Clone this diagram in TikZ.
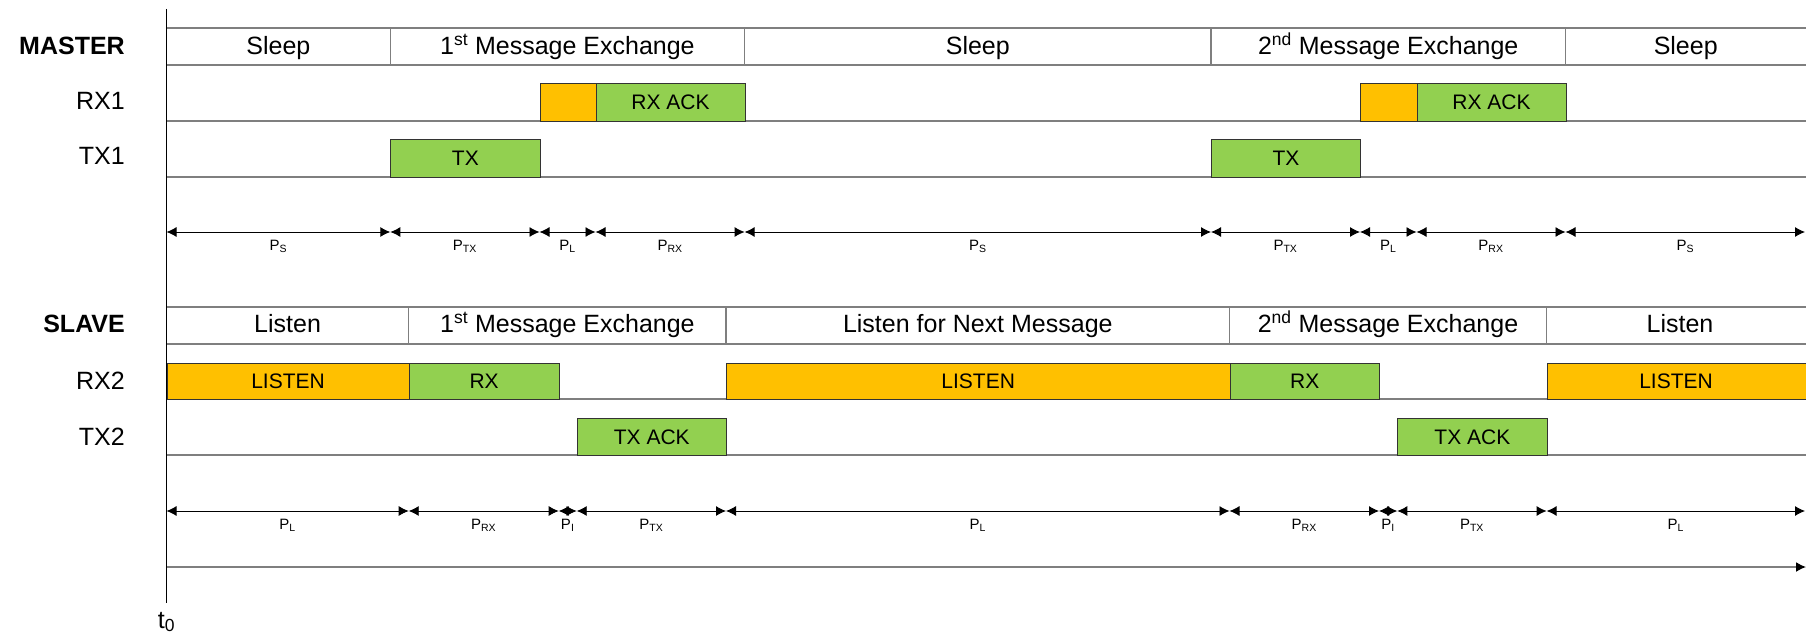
\documentclass[tikz,border=0pt]{standalone}
\usepackage{fontspec}
\setmainfont{Liberation Sans}
\usetikzlibrary{arrows.meta}
\definecolor{orng}{HTML}{FFC000}
\definecolor{grn}{HTML}{92D050}
\definecolor{lgray}{HTML}{7F7F7F}
\newcommand{\hdrfont}{\fontsize{25bp}{30bp}\selectfont}
\newcommand{\boxfont}{\fontsize{21bp}{25bp}\selectfont}
\newcommand{\dimfont}{\fontsize{15bp}{18bp}\selectfont}
\newcommand{\tlbox}[7]{\node[#1, minimum width={(#4-#3)*1bp}, minimum height={(#6-#5)*1bp}] (#2) at (#3,#5) {#7};}
\tikzset{
  rowline/.style={draw=lgray, line width=1.5bp},
  divline/.style={draw=lgray, line width=1.2bp},
  seg/.style={draw=black!80, line width=0.9bp, inner sep=0, anchor=north west, font=\boxfont},
  orbox/.style={seg, fill=orng},
  grbox/.style={seg, fill=grn},
  hdrtext/.style={font=\hdrfont, inner sep=0, anchor=base},
  sidelabel/.style={font=\hdrfont, anchor=base east, inner sep=0},
  dimline/.style={{Latex[length=10bp,width=10bp]}-{Latex[length=10bp,width=10bp]}, line width=0.9bp},
  dimlabel/.style={font=\dimfont, midway, anchor=base, yshift=-18bp, inner sep=0},
}
\begin{document}
\begin{tikzpicture}[x=1bp,y=-1bp]
\useasboundingbox (0,0) rectangle (1806,635);
% ---------- row lines ----------
\foreach \yy in {28,65,121,177,307,344,399,455}
  \draw[rowline] (166.5,\yy) -- (1810,\yy);
% header dividers
\foreach \xx in {390.3,744.6,1211,1565.5}
  \draw[divline] (\xx,28) -- (\xx,65);
\foreach \xx in {408.7,726,1229.5,1546.6}
  \draw[divline] (\xx,307) -- (\xx,344);
% ---------- side labels ----------
\node[sidelabel, font=\hdrfont\bfseries] (master) at (125,54.3) {MASTER};
\node[sidelabel] (rx1) at (125,110) {RX1};
\node[sidelabel] (tx1) at (125,165) {TX1};
\node[sidelabel, font=\hdrfont\bfseries] (slave) at (125,332.7) {SLAVE};
\node[sidelabel] (rx2) at (125,389.3) {RX2};
\node[sidelabel] (tx2) at (125,445) {TX2};
% ---------- master header ----------
\node[hdrtext] (mh1) at (278.4,54.3) {Sleep};
\node[hdrtext] (mh2) at (567.4,54.3) {1\textsuperscript{st} Message Exchange};
\node[hdrtext] (mh3) at (977.8,54.3) {Sleep};
\node[hdrtext] (mh4) at (1388.2,54.3) {2\textsuperscript{nd} Message Exchange};
\node[hdrtext] (mh5) at (1685.7,54.3) {Sleep};
% ---------- master boxes ----------
\tlbox{orbox}{ml1}{539.5}{595.5}{83}{121}{}
\tlbox{grbox}{mack1}{595.5}{744.6}{83}{121}{RX ACK}
\tlbox{grbox}{mtx1}{390.3}{539.5}{139}{177}{TX}
\tlbox{orbox}{ml2}{1360}{1416.5}{83}{121}{}
\tlbox{grbox}{mack2}{1416.5}{1565.5}{83}{121}{RX ACK}
\tlbox{grbox}{mtx2}{1211}{1360}{139}{177}{TX}
% ---------- slave header ----------
\node[hdrtext] (sh1) at (287.6,332.7) {Listen};
\node[hdrtext] (sh2) at (567.4,332.7) {1\textsuperscript{st} Message Exchange};
\node[hdrtext] (sh3) at (977.8,332.7) {Listen for Next Message};
\node[hdrtext] (sh4) at (1388,332.7) {2\textsuperscript{nd} Message Exchange};
\node[hdrtext] (sh5) at (1680,332.7) {Listen};
% ---------- slave boxes ----------
\tlbox{orbox}{sl1}{166.5}{408.7}{362.7}{399.3}{LISTEN}
\tlbox{grbox}{srx1}{408.7}{558.7}{362.7}{399.3}{RX}
\tlbox{orbox}{sl2}{726}{1229.5}{362.7}{399.3}{LISTEN}
\tlbox{grbox}{srx2}{1229.5}{1379}{362.7}{399.3}{RX}
\tlbox{orbox}{sl3}{1546.6}{1812}{362.7}{399.3}{}
\node[font=\boxfont, inner sep=0] (sl3t) at (1676,381) {LISTEN};
\tlbox{grbox}{stx1}{576.7}{726}{418}{455}{TX ACK}
\tlbox{grbox}{stx2}{1397.3}{1546.6}{418}{455}{TX ACK}
% ---------- master dimension arrows ----------
\foreach \xx [count=\i from 0] in {166.5,390.3,539.5,595.5,744.6,1211,1360,1416.5,1565.5,1805}
  \coordinate (m\i) at (\xx,232);
\foreach \a/\b/\l in {0/1/S,1/2/TX,2/3/L,3/4/RX,4/5/S,5/6/TX,6/7/L,7/8/RX,8/9/S}
  \draw[dimline] (m\a) -- (m\b) node[dimlabel] {P\textsubscript{\l}};
% ---------- slave dimension arrows ----------
\foreach \xx [count=\i from 0] in {166.5,408.7,558.7,576.7,726,1229.5,1379,1397.3,1546.6,1805}
  \coordinate (s\i) at (\xx,511);
\foreach \a/\b/\l in {0/1/L,1/2/RX,2/3/I,3/4/TX,4/5/L,5/6/RX,6/7/I,7/8/TX,8/9/L}
  \draw[dimline] (s\a) -- (s\b) node[dimlabel] {P\textsubscript{\l}};
% ---------- time axis ----------
\coordinate (tstart) at (166.5,567);
\coordinate (tend) at (1806,567);
\draw[rowline, -{Latex[length=10bp,width=10bp,color=black]}] (tstart) -- (tend);
\coordinate (axtop) at (166.5,9);
\coordinate (axbot) at (166.5,603);
\draw[black, line width=1bp] (axtop) -- (axbot);
\node[font=\hdrfont, anchor=base, inner sep=0] (t0) at (166.5,628) {t\textsubscript{0}};
\end{tikzpicture}
\end{document}
